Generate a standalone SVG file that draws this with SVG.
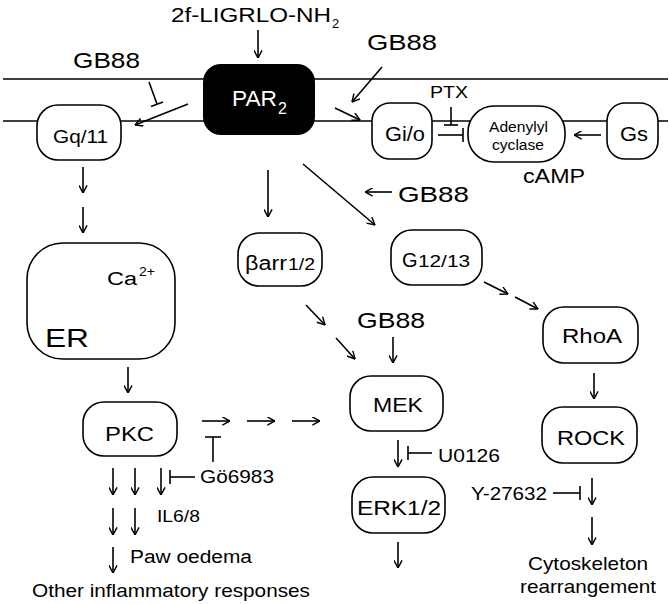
<svg xmlns="http://www.w3.org/2000/svg" width="669" height="604" viewBox="0 0 669 604">
<defs>
<style>
.t{font-family:"Liberation Sans",Arial,sans-serif;fill:#000}
.box{fill:#fff;stroke:#000;stroke-width:1.6}
.ln{stroke:#000;stroke-width:1.6;fill:none}
.ar{stroke:#000;stroke-width:1.6;fill:none;marker-end:url(#ah)}
</style>
<marker id="ah" viewBox="0 0 10 10" refX="9.5" refY="5" markerWidth="9" markerHeight="9" markerUnits="userSpaceOnUse" orient="auto">
<path d="M1,0.5 L9.5,5 L1,9.5" fill="none" stroke="#000" stroke-width="1.6"/>
</marker>
</defs>
<rect width="669" height="604" fill="#fff"/>
<g id="membrane">
<line class="ln" x1="3" y1="79" x2="668" y2="79"/>
<line class="ln" x1="3" y1="121" x2="668" y2="121"/>
</g>
<g id="connectors">
<line class="ar" x1="258" y1="30" x2="258" y2="58"/>
<line class="ln" x1="149" y1="82" x2="157" y2="104"/>
<line class="ln" x1="151" y1="106.5" x2="163" y2="102"/>
<line class="ar" x1="188" y1="104" x2="135" y2="125"/>
<line class="ar" x1="335" y1="108" x2="360" y2="120"/>
<line class="ar" x1="382" y1="67" x2="352" y2="102"/>
<line class="ln" x1="451" y1="107" x2="451" y2="125"/>
<line class="ln" x1="444" y1="125" x2="458" y2="125"/>
<line class="ln" x1="438" y1="135" x2="463" y2="135"/>
<line class="ln" x1="463" y1="128" x2="463" y2="142"/>
<line class="ar" x1="601" y1="135" x2="574" y2="135"/>
<line class="ar" x1="83" y1="167" x2="83" y2="193"/>
<line class="ar" x1="83" y1="207" x2="83" y2="233"/>
<line class="ar" x1="128" y1="367" x2="128" y2="393"/>
<line class="ar" x1="268" y1="170" x2="268" y2="217"/>
<line class="ar" x1="303" y1="164" x2="375" y2="225"/>
<line class="ar" x1="392" y1="192" x2="365" y2="192"/>
<line class="ar" x1="306" y1="305" x2="325" y2="325"/>
<line class="ar" x1="336" y1="338" x2="355" y2="359"/>
<line class="ar" x1="393" y1="337" x2="393" y2="363"/>
<line class="ar" x1="484" y1="282" x2="508" y2="294"/>
<line class="ar" x1="515" y1="297" x2="538" y2="309"/>
<line class="ar" x1="594" y1="373" x2="594" y2="399"/>
<line class="ar" x1="202" y1="421" x2="230" y2="421"/>
<line class="ar" x1="247" y1="421" x2="275" y2="421"/>
<line class="ar" x1="292" y1="421" x2="320" y2="421"/>
<line class="ln" x1="213" y1="462" x2="213" y2="437"/>
<line class="ln" x1="205" y1="437" x2="221" y2="437"/>
<line class="ln" x1="195" y1="477" x2="170" y2="477"/>
<line class="ln" x1="170" y1="470" x2="170" y2="484"/>
<line class="ar" x1="113" y1="468" x2="113" y2="495"/>
<line class="ar" x1="135" y1="468" x2="135" y2="495"/>
<line class="ar" x1="161" y1="468" x2="161" y2="495"/>
<line class="ar" x1="113" y1="508" x2="113" y2="535"/>
<line class="ar" x1="135" y1="508" x2="135" y2="535"/>
<line class="ar" x1="113" y1="547" x2="113" y2="573"/>
<line class="ar" x1="398" y1="440" x2="398" y2="467"/>
<line class="ln" x1="432" y1="453" x2="408" y2="453"/>
<line class="ln" x1="408" y1="446" x2="408" y2="460"/>
<line class="ar" x1="398" y1="542" x2="398" y2="568"/>
<line class="ln" x1="553" y1="493" x2="580" y2="493"/>
<line class="ln" x1="580" y1="486" x2="580" y2="500"/>
<line class="ar" x1="592" y1="478" x2="592" y2="505"/>
<line class="ar" x1="592" y1="517" x2="592" y2="545"/>
</g>
<g id="ligand">
<text class="t" x="171" y="22" font-size="20" textLength="160" lengthAdjust="spacingAndGlyphs">2f-LIGRLO-NH</text>
<text class="t" x="332" y="28" font-size="13">2</text>
</g>
<g id="par2">
<rect x="203" y="64" width="112" height="71" rx="18" fill="#000"/>
<text x="232" y="106" font-size="22" fill="#fff" font-family="Liberation Sans,Arial,sans-serif" textLength="45" lengthAdjust="spacingAndGlyphs">PAR</text>
<text x="278" y="114" font-size="16" fill="#fff" font-family="Liberation Sans,Arial,sans-serif">2</text>
</g>
<g id="gb88-left"><text class="t" x="73" y="68" font-size="22" textLength="67" lengthAdjust="spacingAndGlyphs">GB88</text></g>
<g id="gb88-top"><text class="t" x="367" y="50" font-size="22" textLength="70" lengthAdjust="spacingAndGlyphs">GB88</text></g>
<g id="gq11">
<rect class="box" x="37" y="105" width="84" height="55" rx="21"/>
<text class="t" x="53" y="143" font-size="18" textLength="55" lengthAdjust="spacingAndGlyphs">Gq/11</text>
</g>
<g id="gio">
<rect class="box" x="372" y="103" width="60" height="56" rx="18"/>
<text class="t" x="385" y="141" font-size="20" textLength="40" lengthAdjust="spacingAndGlyphs">Gi/o</text>
</g>
<g id="ptx"><text class="t" x="430" y="98" font-size="17" textLength="38" lengthAdjust="spacingAndGlyphs">PTX</text></g>
<g id="adenylyl-cyclase">
<rect class="box" x="468" y="106" width="97" height="56" rx="26"/>
<text class="t" x="489" y="132" font-size="14" textLength="59" lengthAdjust="spacingAndGlyphs">Adenylyl</text>
<text class="t" x="492" y="150" font-size="14" textLength="52" lengthAdjust="spacingAndGlyphs">cyclase</text>
</g>
<g id="gs">
<rect class="box" x="607" y="103" width="51" height="56" rx="18"/>
<text class="t" x="620" y="141" font-size="20" textLength="28" lengthAdjust="spacingAndGlyphs">Gs</text>
</g>
<g id="camp"><text class="t" x="523" y="183" font-size="20" textLength="62" lengthAdjust="spacingAndGlyphs">cAMP</text></g>
<g id="gb88-mid"><text class="t" x="398" y="202" font-size="22" textLength="71" lengthAdjust="spacingAndGlyphs">GB88</text></g>
<g id="er">
<rect class="box" x="27" y="243" width="148" height="116" rx="36"/>
<text class="t" x="107" y="285" font-size="18" textLength="30" lengthAdjust="spacingAndGlyphs">Ca</text>
<text class="t" x="139" y="276" font-size="12" textLength="16" lengthAdjust="spacingAndGlyphs">2+</text>
<text class="t" x="45" y="347" font-size="26" textLength="44" lengthAdjust="spacingAndGlyphs">ER</text>
</g>
<g id="barr">
<rect class="box" x="238" y="233" width="84" height="53" rx="21"/>
<text class="t" x="245" y="270" font-size="20" textLength="42" lengthAdjust="spacingAndGlyphs">βarr</text>
<text class="t" x="288" y="270" font-size="16" textLength="27" lengthAdjust="spacingAndGlyphs">1/2</text>
</g>
<g id="g1213">
<rect class="box" x="391" y="230" width="91" height="55" rx="21"/>
<text class="t" x="402" y="267" font-size="20">G</text>
<text class="t" x="418" y="267" font-size="16" textLength="52" lengthAdjust="spacingAndGlyphs">12/13</text>
</g>
<g id="gb88-mek"><text class="t" x="357" y="328" font-size="22" textLength="68" lengthAdjust="spacingAndGlyphs">GB88</text></g>
<g id="rhoa">
<rect class="box" x="543" y="307" width="95" height="56" rx="21"/>
<text class="t" x="562" y="343" font-size="20" textLength="60" lengthAdjust="spacingAndGlyphs">RhoA</text>
</g>
<g id="mek">
<rect class="box" x="350" y="376" width="93" height="55" rx="21"/>
<text class="t" x="373" y="412" font-size="20" textLength="50" lengthAdjust="spacingAndGlyphs">MEK</text>
</g>
<g id="pkc">
<rect class="box" x="83" y="402" width="94" height="54" rx="21"/>
<text class="t" x="105" y="441" font-size="20" textLength="49" lengthAdjust="spacingAndGlyphs">PKC</text>
</g>
<g id="rock">
<rect class="box" x="542" y="407" width="95" height="56" rx="21"/>
<text class="t" x="557" y="445" font-size="20" textLength="68" lengthAdjust="spacingAndGlyphs">ROCK</text>
</g>
<g id="go6983"><text class="t" x="200" y="483" font-size="19" textLength="74" lengthAdjust="spacingAndGlyphs">Gö6983</text></g>
<g id="u0126"><text class="t" x="438" y="462" font-size="19" textLength="62" lengthAdjust="spacingAndGlyphs">U0126</text></g>
<g id="erk">
<rect class="box" x="352" y="477" width="93" height="56" rx="21"/>
<text class="t" x="357" y="515" font-size="20" textLength="84" lengthAdjust="spacingAndGlyphs">ERK1/2</text>
</g>
<g id="y27632"><text class="t" x="471" y="500" font-size="19" textLength="76" lengthAdjust="spacingAndGlyphs">Y-27632</text></g>
<g id="il68"><text class="t" x="157" y="522" font-size="17" textLength="43" lengthAdjust="spacingAndGlyphs">IL6/8</text></g>
<g id="paw"><text class="t" x="130" y="563" font-size="18" textLength="122" lengthAdjust="spacingAndGlyphs">Paw oedema</text></g>
<g id="other"><text class="t" x="32" y="597" font-size="19" textLength="278" lengthAdjust="spacingAndGlyphs">Other inflammatory responses</text></g>
<g id="cyto">
<text class="t" x="528" y="570" font-size="19" textLength="120" lengthAdjust="spacingAndGlyphs">Cytoskeleton</text>
<text class="t" x="520" y="593" font-size="19" textLength="136" lengthAdjust="spacingAndGlyphs">rearrangement</text>
</g>
</svg>
